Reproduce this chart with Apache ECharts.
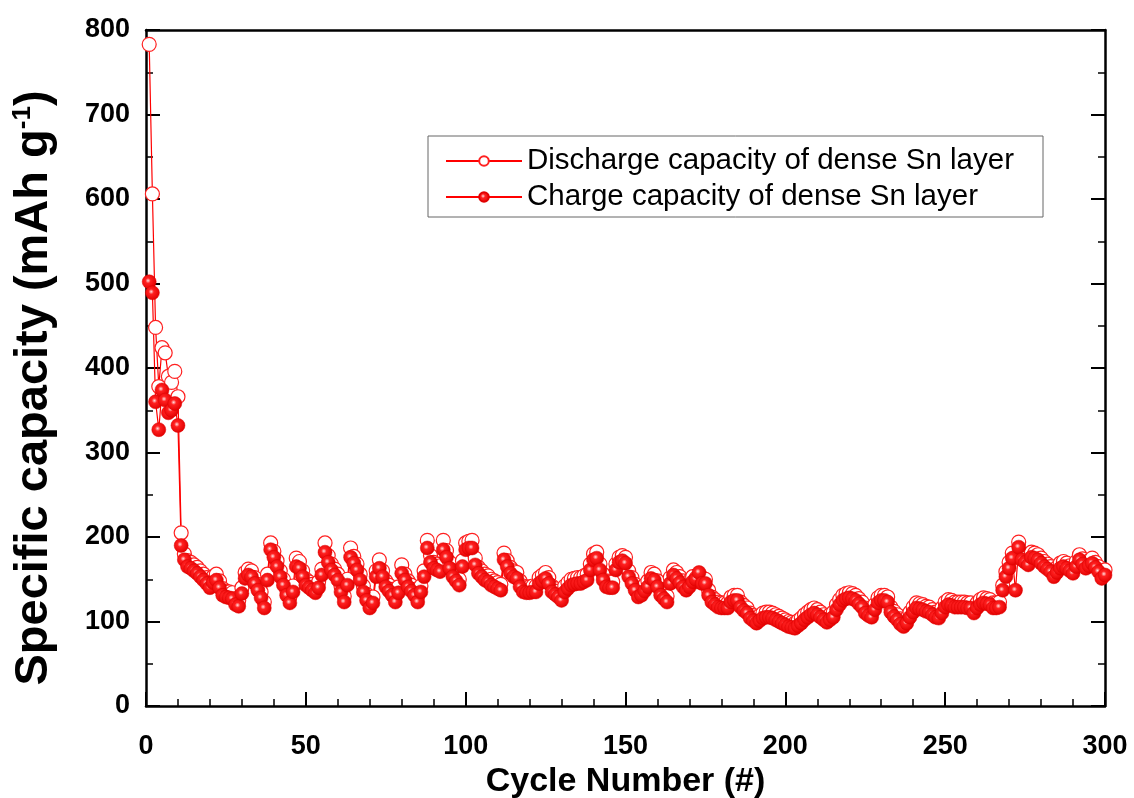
<!DOCTYPE html>
<html>
<head>
<meta charset="utf-8">
<script src="https://cdn.jsdelivr.net/npm/echarts@6/dist/echarts.min.js"></script>
<style>
  html, body { margin: 0; padding: 0; background: #fff; }
  #chart { width: 1134px; height: 798px; }
</style>
</head>
<body>
<div id="chart"></div>
<script>
const cycles = Array.from({ length: 300 }, (_, i) => i + 1);

const dischargeCapacity = [
  783, 606, 448, 378, 424, 418, 390, 383, 396, 366,
  205, 180, 172, 170, 167, 164, 160, 156, 152, 147,
  153, 156, 148, 139, 136, 135, 134, 127, 125, 140,
  158, 162, 160, 152, 144, 135, 123, 156, 193, 183,
  172, 160, 150, 138, 129, 142, 175, 171, 160, 150,
  147, 144, 141, 147, 162, 193, 178, 168, 162, 156,
  142, 130, 150, 187, 177, 168, 156, 142, 132, 123,
  129, 160, 173, 160, 148, 143, 138, 130, 141, 167,
  156, 148, 143, 138, 130, 142, 160, 196, 178, 170,
  168, 166, 196, 184, 170, 160, 155, 150, 172, 193,
  195, 196, 175, 164, 160, 156, 154, 150, 148, 146,
  144, 181, 172, 164, 160, 158, 148, 142, 141, 141,
  142, 142, 152, 155, 158, 152, 142, 139, 136, 132,
  142, 146, 150, 151, 152, 152, 154, 156, 168, 180,
  182, 168, 156, 148, 147, 147, 168, 176, 178, 176,
  160, 152, 144, 136, 138, 143, 148, 158, 156, 148,
  138, 134, 130, 152, 161, 158, 153, 148, 144, 148,
  153, 151, 147, 152, 150, 137, 129, 126, 123, 122,
  122, 122, 129, 131, 131, 123, 119, 116, 110, 107,
  104, 107, 110, 111, 111, 110, 108, 106, 104, 102,
  100, 99, 98, 101, 104, 108, 111, 114, 116, 114,
  111, 108, 105, 108, 111, 120, 126, 131, 133, 134,
  133, 131, 127, 123, 116, 113, 111, 120, 128, 131,
  131, 129, 117, 112, 108, 103, 100, 104, 111, 117,
  122, 121, 120, 118, 117, 114, 111, 110, 116, 123,
  126, 125, 123, 123, 123, 123, 122, 122, 116, 122,
  126, 128, 127, 126, 122, 122, 123, 143, 159, 170,
  181, 176, 194, 180, 176, 173, 182, 181, 179, 175,
  171, 168, 165, 159, 164, 169, 171, 169, 166, 163,
  171, 179, 174, 169, 172, 175, 170, 165, 157, 161,
];

const chargeCapacity = [
  502, 489, 360, 327, 374, 362, 347, 350, 358, 332,
  190, 173, 165, 163, 160, 157, 153, 149, 145, 140,
  146, 149, 140, 131, 129, 128, 127, 120, 118, 133,
  151, 155, 153, 145, 137, 128, 116, 149, 185, 176,
  165, 153, 143, 131, 122, 135, 165, 163, 153, 143,
  140, 137, 134, 140, 155, 182, 170, 161, 155, 149,
  135, 123, 143, 176, 169, 161, 149, 135, 125, 116,
  122, 153, 163, 153, 141, 136, 131, 123, 134, 157,
  149, 141, 136, 131, 123, 135, 153, 187, 170, 163,
  161, 159, 185, 176, 163, 153, 148, 143, 165, 185,
  187, 187, 167, 157, 153, 149, 147, 143, 141, 139,
  137, 173, 165, 157, 153, 151, 141, 135, 134, 134,
  135, 135, 145, 148, 151, 145, 135, 132, 129, 125,
  135, 139, 143, 144, 145, 145, 147, 149, 161, 173,
  175, 161, 149, 141, 140, 140, 161, 170, 172, 169,
  153, 145, 137, 129, 131, 136, 141, 151, 149, 141,
  131, 127, 123, 145, 155, 151, 146, 141, 137, 141,
  147, 150, 158, 145, 145, 131, 123, 120, 117, 116,
  116, 116, 123, 125, 125, 117, 113, 110, 104, 101,
  98, 101, 104, 105, 105, 104, 102, 100, 98, 96,
  94, 93, 92, 95, 98, 102, 105, 108, 110, 108,
  105, 102, 99, 102, 105, 114, 120, 125, 127, 128,
  127, 125, 121, 117, 110, 107, 105, 114, 122, 125,
  125, 123, 111, 106, 102, 97, 94, 98, 105, 111,
  116, 115, 114, 112, 111, 108, 105, 104, 110, 117,
  120, 119, 117, 117, 117, 117, 116, 116, 110, 116,
  120, 122, 121, 120, 116, 116, 117, 137, 153, 163,
  175, 137, 188, 173, 170, 167, 176, 175, 173, 169,
  165, 162, 159, 153, 158, 163, 165, 163, 160, 157,
  165, 173, 168, 163, 166, 169, 164, 159, 151, 155,
];

const xTicks = [0, 50, 100, 150, 200, 250, 300];
const yTicks = [0, 100, 200, 300, 400, 500, 600, 700, 800];

const chart = echarts.init(document.getElementById("chart"));

const labelFont = {
  fontFamily: "'Liberation Sans', Arial, sans-serif",
  fontWeight: "bold",
  color: "#000",
};

// filled markers get a small highlight like the original plot
const ballColor = {
  type: "radial",
  x: 0.42,
  y: 0.42,
  r: 0.6,
  colorStops: [
    { offset: 0, color: "#ffe0e0" },
    { offset: 0.3, color: "#ff2020" },
    { offset: 1, color: "#e00000" },
  ],
};

const axisLine = { show: true, onZero: false, lineStyle: { color: "#000", width: 2.5 } };
const majorTick = { show: true, inside: true, length: 14, lineStyle: { color: "#000", width: 2 } };
const minorTick = (n) => ({ show: true, splitNumber: n, length: 7, lineStyle: { color: "#000", width: 1.5 } });

chart.setOption({
  animation: false,
  backgroundColor: "#fff",
  grid: { left: 146, right: 29, top: 30, bottom: 92, outerBoundsMode: "none", containLabel: false },
  legend: {
    orient: "vertical",
    left: 428,
    top: 136,
    padding: [10, 29, 5, 17],
    itemGap: 6,
    itemWidth: 76,
    itemHeight: 12,
    borderColor: "#666",
    borderWidth: 1,
    textStyle: {
      fontFamily: "'Liberation Sans', Arial, sans-serif",
      fontSize: 29.5,
      color: "#000",
    },
    data: ["Discharge capacity of dense Sn layer", "Charge capacity of dense Sn layer"],
  },
  xAxis: [
    {
      type: "value",
      min: 0,
      max: 300,
      interval: 50,
      name: "Cycle Number (#)",
      nameLocation: "middle",
      nameGap: 48,
      nameTextStyle: { ...labelFont, fontSize: 34 },
      axisLine: axisLine,
      axisTick: majorTick,
      minorTick: minorTick(5),
      splitLine: { show: false },
      axisLabel: {
        ...labelFont,
        fontSize: 27,
        margin: 27,
        formatter: (v) => (xTicks.includes(v) ? String(v) : ""),
      },
    },
    {
      type: "value",
      position: "top",
      min: 0,
      max: 300,
      interval: 50,
      axisLine: axisLine,
      axisTick: { show: false },
      axisLabel: { show: false },
      splitLine: { show: false },
    },
  ],
  yAxis: [
    {
      type: "value",
      position: "left",
      min: 0,
      max: 800,
      interval: 100,
      name: "{a|Specific capacity (mAh g}{s|-1}{a|)}",
      nameLocation: "middle",
      nameGap: 88,
      nameRotate: 90,
      nameTextStyle: {
        padding: [0, 40, 0, 0],
        rich: {
          a: { ...labelFont, fontSize: 47 },
          s: { ...labelFont, fontSize: 26, verticalAlign: "top", padding: [0, 0, 22, 0] },
        },
      },
      axisLine: axisLine,
      axisTick: majorTick,
      minorTick: minorTick(2),
      splitLine: { show: false },
      axisLabel: {
        ...labelFont,
        fontSize: 27,
        margin: 16,
        formatter: (v) => (yTicks.includes(v) ? String(v) : ""),
      },
    },
    {
      type: "value",
      position: "right",
      min: 0,
      max: 800,
      interval: 100,
      axisLine: axisLine,
      axisTick: majorTick,
      minorTick: minorTick(2),
      axisLabel: { show: false },
      splitLine: { show: false },
    },
  ],
  series: [
    {
      name: "Discharge capacity of dense Sn layer",
      type: "line",
      data: cycles.map((c, i) => [c, dischargeCapacity[i]]),
      symbol: "circle",
      symbolSize: 14,
      lineStyle: { color: "#ff0000", width: 1.2 },
      itemStyle: { color: "#fff", borderColor: "#ff2020", borderWidth: 1.2 },
    },
    {
      name: "Charge capacity of dense Sn layer",
      type: "line",
      data: cycles.map((c, i) => [c, chargeCapacity[i]]),
      symbol: "circle",
      symbolSize: 14,
      lineStyle: { color: "#ff0000", width: 1.2 },
      itemStyle: { color: ballColor, borderColor: "#e00000", borderWidth: 0.5 },
    },
  ],
});

window.addEventListener("resize", () => chart.resize());
</script>
</body>
</html>
